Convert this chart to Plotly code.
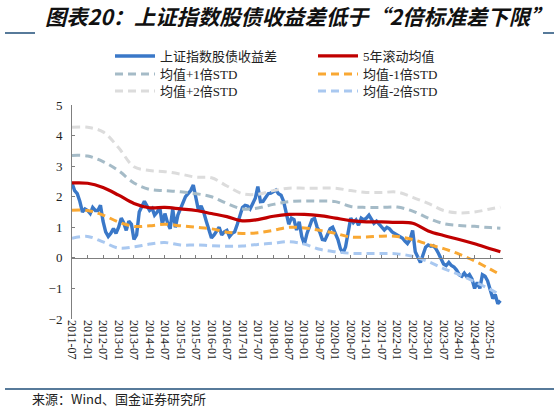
import plotly.graph_objects as go
import pandas as pd

# monthly spread series, 2011-07 .. 2025-05
spread = [
    2.45, 2.2, 2.1, 1.85, 1.5, 1.6, 1.55, 1.45, 1.65, 1.55, 1.55, 1.72,
    1.2, 0.85, 0.7, 0.8, 0.96, 0.8, 1.0, 1.3, 1.15, 0.9, 1.2, 1.1,
    0.6, 0.75, 1.5, 1.7, 1.85, 1.7, 1.55, 1.62, 1.4, 1.5, 1.65, 1.1,
    1.45, 1.15, 0.95, 1.6, 1.0, 1.4, 1.6, 1.75, 2.0, 2.1, 2.2, 2.38,
    1.9, 1.55, 1.7, 1.5, 1.2, 0.9, 0.65, 0.75, 0.85, 1.0, 0.75, 0.85,
    0.9, 0.7, 0.8, 0.85, 1.1, 1.4, 1.65, 1.72, 1.7, 1.6, 1.78, 1.95,
    2.33, 1.84, 1.85, 2.0, 2.1, 2.12, 2.17, 2.22, 2.1, 2.05, 1.85, 1.4,
    1.1, 1.3, 1.25, 0.91, 1.18, 0.7, 0.45, 0.8, 1.05, 1.25, 1.29, 1.0,
    0.85, 0.6, 0.58, 0.8, 0.95, 1.0, 0.8, 0.6, 0.3, 0.15, 0.36, 0.85,
    1.3, 1.15, 1.24, 1.07, 1.3, 1.24, 1.3, 1.4, 1.25, 1.13, 1.2, 1.1,
    1.02, 0.91, 1.0, 0.95, 0.85, 0.8, 0.75, 0.7, 0.65, 0.55, 0.47, 0.6,
    0.9, 0.2, 0.05, -0.15, 0.1, 0.35, 0.42, 0.38, 0.4, 0.3, 0.15, -0.05,
    -0.2, -0.25, -0.15, -0.25, -0.3, -0.4, -0.55, -0.6, -0.5, -0.62, -0.55, -0.7,
    -1.0, -0.8, -1.0, -0.55, -0.6, -0.75, -1.05, -1.33, -1.2, -1.5, -1.4,
]
spread_dates = pd.date_range("2011-07-01", periods=len(spread), freq="MS")

# rolling mean and std bands, half-yearly points + last month
band_dates = list(pd.date_range("2011-07-01", "2025-01-01", freq="6MS")) + [pd.Timestamp("2025-05-01")]
mean5y = [2.45, 2.44, 2.3, 2.05, 1.78, 1.64, 1.65, 1.6, 1.55, 1.45, 1.35, 1.21, 1.25, 1.36,
          1.42, 1.42, 1.38, 1.3, 1.22, 1.18, 1.18, 1.16, 1.13, 0.88, 0.73, 0.6, 0.46, 0.3, 0.2]
plus1 = [3.35, 3.33, 3.15, 2.85, 2.45, 2.24, 2.2, 2.16, 2.1, 2.0, 1.78, 1.6, 1.63, 1.75,
         1.84, 1.86, 1.86, 1.84, 1.68, 1.65, 1.65, 1.66, 1.53, 1.3, 1.12, 1.06, 1.03, 0.99, 0.97]
minus1 = [1.56, 1.55, 1.4, 1.17, 1.03, 1.05, 1.1, 1.05, 1.0, 0.95, 0.84, 0.8, 0.82, 0.9,
          1.0, 0.98, 0.9, 0.8, 0.68, 0.68, 0.71, 0.7, 0.6, 0.44, 0.3, 0.12, -0.1, -0.37, -0.55]
plus2 = [4.27, 4.27, 4.12, 3.6, 2.98, 2.86, 2.82, 2.74, 2.64, 2.62, 2.35, 2.1, 2.08, 2.2,
         2.28, 2.28, 2.28, 2.28, 2.2, 2.14, 2.14, 2.15, 1.98, 1.78, 1.55, 1.47, 1.5, 1.6, 1.66]
minus2 = [0.64, 0.7, 0.52, 0.32, 0.36, 0.45, 0.5, 0.42, 0.42, 0.4, 0.38, 0.39, 0.44, 0.48,
          0.53, 0.45, 0.28, 0.2, 0.15, 0.14, 0.14, 0.13, 0.05, -0.12, -0.35, -0.55, -0.78, -1.03, -1.22]

names = ["上证指数股债收益差", "5年滚动均值", "均值+1倍STD", "均值-1倍STD", "均值+2倍STD", "均值-2倍STD"]

W, H = 559, 410
L, R, T, B = 72, 503, 105, 319   # plot area in pixels


def px(x):
    return (x - L) / (R - L)


def py(y):
    return (B - y) / (B - T)


serif = "Liberation Serif, Noto Sans CJK SC, serif"
cjk = "Noto Sans CJK SC, sans-serif"
dash = "8px,5px"

fig = go.Figure()
fig.add_trace(go.Scatter(x=spread_dates, y=spread, name=names[0], mode="lines",
                         line=dict(color="#3A78C8", width=3.4), legend="legend"))
fig.add_trace(go.Scatter(x=band_dates, y=mean5y, name=names[1], mode="lines",
                         line=dict(color="#C00000", width=3.2, shape="spline"), legend="legend"))
fig.add_trace(go.Scatter(x=band_dates, y=plus1, name=names[2], mode="lines",
                         line=dict(color="#A5BBC7", width=3, dash=dash, shape="spline"), legend="legend2"))
fig.add_trace(go.Scatter(x=band_dates, y=minus1, name=names[3], mode="lines",
                         line=dict(color="#F9A833", width=3, dash=dash, shape="spline"), legend="legend2"))
fig.add_trace(go.Scatter(x=band_dates, y=plus2, name=names[4], mode="lines",
                         line=dict(color="#DCDCDC", width=3, dash=dash, shape="spline"), legend="legend3"))
fig.add_trace(go.Scatter(x=band_dates, y=minus2, name=names[5], mode="lines",
                         line=dict(color="#A9C8F0", width=3, dash=dash, shape="spline"), legend="legend3"))
# dummy trace so the zero-line axis gets drawn
fig.add_trace(go.Scatter(x=[], y=[], xaxis="x2", showlegend=False, hoverinfo="skip"))

xr = ["2011-07-01", "2025-06-01"]
leg = dict(orientation="h", xref="container", yref="container", x=110 / W, xanchor="left",
           yanchor="middle", entrywidth=148, itemwidth=40, bgcolor="rgba(0,0,0,0)",
           font=dict(family=serif, size=13, color="#222222"), tracegroupgap=0)

fig.update_layout(
    width=W, height=H,
    margin=dict(l=L, r=W - R, t=T, b=H - B, autoexpand=False),
    plot_bgcolor="white", paper_bgcolor="white",
    xaxis=dict(type="date", range=xr, tick0="2011-07-01", dtick="M6", tickformat="%Y-%m",
               tickangle=90, showline=False, ticks="", showgrid=False, zeroline=False,
               automargin=False, tickfont=dict(family=serif, size=12, color="#222222")),
    xaxis2=dict(type="date", overlaying="x", matches="x", range=xr, anchor="free", position=2 / 7,
                tick0="2011-07-01", dtick="M6", showticklabels=False, showline=True,
                linecolor="#7F7F7F", linewidth=1, ticks="inside", ticklen=3, tickcolor="#7F7F7F",
                showgrid=False, zeroline=False),
    yaxis=dict(range=[-2, 5], dtick=1, showline=True, linecolor="#7F7F7F", linewidth=1,
               ticks="inside", ticklen=3, tickcolor="#7F7F7F", showgrid=False, zeroline=False,
               automargin=False, ticklabelstandoff=6,
               tickfont=dict(family=serif, size=13, color="#222222")),
    legend=dict(leg, y=1 - 56 / H),
    legend2=dict(leg, y=1 - 74 / H),
    legend3=dict(leg, y=1 - 91 / H),
    showlegend=True,
)

# title, source and frame lines
fig.add_annotation(text="<b><i>图表20：上证指数股债收益差低于“2倍标准差下限”</i></b>",
                   xref="paper", yref="paper", x=px(298), y=py(16), showarrow=False,
                   xanchor="center", yanchor="middle", font=dict(family=cjk, size=21.3, color="#111111"))
fig.add_annotation(text="来源：Wind、国金证券研究所", xref="paper", yref="paper",
                   x=px(30), y=py(398), showarrow=False, xanchor="left", yanchor="middle",
                   font=dict(family=cjk, size=13, color="#222222"))
line_col = "#1F4E79"
for x0, x1, y in [(5, 35, 33), (543, 554, 33), (5, 554, 389)]:
    fig.add_shape(type="line", xref="paper", yref="paper", x0=px(x0), x1=px(x1), y0=py(y), y1=py(y),
                  line=dict(color=line_col, width=1.5))

# drop the default page margin so the figure sits at the window corner
fig.write_html("out.html", config={"displayModeBar": False},
               post_script="document.body.style.margin='0px';")
